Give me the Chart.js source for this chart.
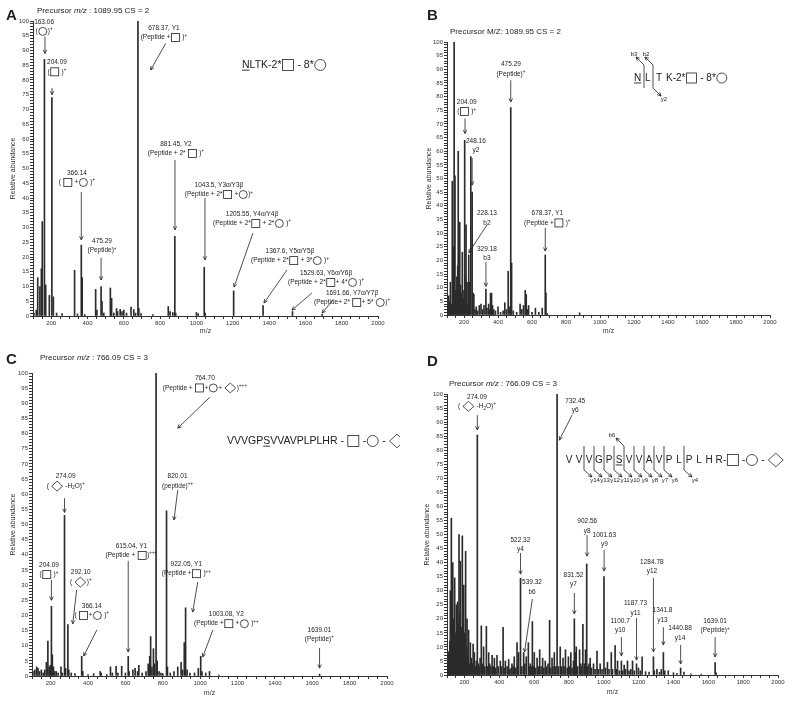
<!DOCTYPE html>
<html>
<head>
<meta charset="utf-8">
<script src="https://cdn.jsdelivr.net/npm/chart.js@4.4.1/dist/chart.umd.min.js"></script>
<style>
  html, body { margin: 0; padding: 0; background: #fff; }
  #wrap { position: relative; width: 800px; height: 703px; overflow: hidden; }
  .panel { position: absolute; }
</style>
</head>
<body>
<div id="wrap">
  <div class="panel" style="left:0;top:0"><canvas id="chartA" width="400" height="350"></canvas></div>
  <div class="panel" style="left:400px;top:0"><canvas id="chartB" width="400" height="350"></canvas></div>
  <div class="panel" style="left:0;top:350px"><canvas id="chartC" width="400" height="353"></canvas></div>
  <div class="panel" style="left:400px;top:350px"><canvas id="chartD" width="400" height="353"></canvas></div>
</div>
<script>
// ---- spectrum data (m/z, relative abundance) ----
const mzA  = [105, 118, 126, 138, 146, 151, 163, 170, 190, 204, 212, 230, 260, 329, 345, 366, 371, 385, 445, 452, 475, 480, 490, 526, 533, 545, 560, 566, 580, 590, 600, 615, 640, 655, 665, 678, 683, 695, 760, 845, 855, 870, 881, 886, 1000, 1010, 1043, 1048, 1205, 1367, 1529, 1692];
const intA = [1, 2, 13, 10, 16, 32, 87, 10.5, 7, 74, 6.5, 1, 0.8, 15.5, 0.7, 24, 13, 0.5, 9, 2, 10, 5, 1, 9.5, 6, 1, 2.5, 1.5, 2.3, 1.5, 2, 1, 3, 2.2, 1, 100, 2.5, 0.8, 0.5, 3.2, 1.5, 1.2, 27, 1, 1.2, 0.8, 16.5, 1, 8.5, 3.5, 1.5, 0.6];

const mzB  = [105, 110, 115, 120, 125, 131, 137, 142, 147, 152, 158, 163, 166, 171, 175, 180, 185, 190, 195, 200, 204, 208, 212, 218, 222, 228, 233, 240, 248, 254, 258, 265, 272, 280, 290, 300, 310, 318, 329, 335, 345, 352, 356, 362, 368, 375, 385, 400, 415, 430, 440, 450, 460, 470, 475, 480, 490, 510, 530, 540, 550, 560, 566, 572, 580, 600, 620, 640, 660, 678, 682, 690, 880];
const intB = [3, 7, 5, 12, 4, 49, 25, 100, 51, 9, 14, 18, 60, 6, 34, 11, 8, 23, 6, 9, 64, 14, 33, 12, 4, 22, 12, 58, 45, 8, 7.5, 2, 3, 1.5, 3.5, 4, 2, 3.5, 9.5, 2.5, 4, 2, 8, 8, 3.5, 2, 1.5, 3, 1, 1.5, 4.5, 2, 16, 3, 76, 19, 1.5, 1, 4, 2, 3.5, 9, 7.5, 2, 3.5, 1, 2.5, 1, 2.5, 22, 8, 0.5, 0.8];

const mzC  = [105, 115, 125, 132, 140, 150, 160, 168, 177, 185, 192, 198, 204, 209, 215, 222, 230, 240, 255, 262, 274, 280, 292, 297, 310, 330, 366, 372, 400, 430, 465, 470, 500, 520, 530, 550, 560, 580, 600, 615, 620, 640, 652, 665, 672, 690, 710, 722, 730, 735, 742, 750, 756, 764, 770, 780, 790, 800, 820, 825, 840, 860, 880, 898, 905, 915, 922, 930, 945, 970, 990, 1003, 1010, 1030, 1050, 1100, 1639];
const intC = [1.5, 2, 3, 2.5, 1.5, 2, 1, 2, 4.5, 11.5, 3, 3.5, 23, 7, 3, 1.5, 1.5, 1, 3, 1, 53, 2.5, 17, 2, 1, 0.8, 6.5, 1.5, 0.5, 0.8, 1.5, 1, 0.5, 3, 1, 3.2, 1, 3.2, 1, 6.5, 1.5, 2, 2.5, 1.5, 3.5, 1, 1.5, 4, 6.5, 13, 3, 9, 4, 100, 5, 1.5, 1, 0.8, 54.5, 3, 1, 1.5, 3, 4.5, 2, 11, 22.5, 2, 1, 1, 2.5, 6.5, 1.5, 1, 1.5, 0.3, 0.6];

const mzD  = [102, 106, 110, 113, 116, 119, 122, 125, 128, 130, 133, 137, 140, 144, 148, 151, 154, 158, 161, 165, 169, 173, 177, 180, 183, 188, 192, 196, 200, 203, 207, 211, 215, 220, 224, 228, 234, 240, 245, 250, 257, 263, 268, 274, 280, 285, 290, 297, 303, 310, 317, 326, 332, 339, 345, 352, 359, 365, 372, 380, 387, 395, 406, 413, 422, 428, 435, 445, 454, 460, 468, 473, 480, 486, 495, 502, 507, 511, 522, 530, 540, 547, 555, 567, 572, 578, 584, 590, 595, 601, 608, 617, 624, 632, 640, 649, 656, 664, 672, 680, 689, 695, 703, 708, 716, 725, 732, 740, 750, 758, 766, 772, 780, 790, 797, 805, 811, 818, 826, 831, 836, 842, 850, 861, 868, 875, 880, 888, 895, 902, 908, 915, 922, 930, 941, 950, 961, 968, 979, 990, 1001, 1010, 1021, 1030, 1043, 1050, 1065, 1072, 1079, 1090, 1101, 1108, 1117, 1125, 1136, 1145, 1155, 1165, 1175, 1188, 1199, 1210, 1220, 1240, 1260, 1285, 1290, 1305, 1320, 1330, 1342, 1350, 1370, 1400, 1420, 1441, 1460, 1500, 1560, 1639, 1645];
const intD = [3, 5, 8.3, 5, 12, 30, 20, 55.8, 12, 28, 40, 20, 10, 34.6, 15, 8, 25, 9, 26, 18, 50, 22, 40.5, 12, 17, 49.5, 12, 32, 15, 9, 44, 10, 20, 7, 16, 4, 11.5, 6, 4, 11, 8, 3, 5, 85.4, 4, 3, 6, 17.5, 4, 10, 3, 17.3, 3, 8, 4, 3, 7, 3, 6, 2.5, 7, 3, 5, 3, 17, 2.5, 5, 3, 5.5, 2, 2.5, 4, 3, 6.5, 2.5, 11.5, 3, 8, 34.4, 3, 8, 4, 6.5, 11.5, 3, 4, 3, 19, 3, 8, 2.5, 6, 3, 9, 3, 6, 2.5, 5, 3, 4, 19.5, 2.5, 6, 3, 8, 3, 100, 3, 10, 3, 6, 3, 9, 2.5, 6.5, 3, 8, 2.5, 5, 20, 8, 10, 3, 9, 4, 3, 18, 4, 9, 39.5, 3, 4, 6, 2.5, 4, 2, 8.5, 2, 4, 2, 35, 2.5, 4.5, 2, 8, 2, 10.5, 2, 5, 1.5, 5, 1.5, 3.5, 2, 5, 1.5, 2, 5, 1.5, 4, 2.5, 1.5, 6.5, 1.2, 1, 6.5, 1.5, 2, 1, 2, 8, 1.5, 1.5, 0.8, 0.6, 2.5, 1, 0.4, 0.3, 4.4, 0.8];

// ---- peak annotations: text anchor (m/z, abundance) and arrow (from -> to) ----
const notesA = [
  { x: 161, y: 99.7, lines: ['163.06', '([C])^+'], arrow: [166, 94.7, 166, 89] },
  { x: 232, y: 86, lines: ['204.09', '([S] )^+'], arrow: [205, 77.3, 205, 75] },
  { x: 821, y: 97.6, lines: ['678.37, Y1', '(Peptide +[S] )^+'], arrow: [831, 92.4, 748, 83.4] },
  { x: 887, y: 58.3, lines: ['881.45, Y2', '(Peptide + 2* [S] )^+'], arrow: [882, 52.9, 882, 29.2] },
  { x: 342, y: 48.5, lines: ['366.14', '( [S] +[C] )^+'], arrow: [366, 42, 366, 25.8] },
  { x: 1124, y: 44.4, lines: ['1043.5, Y3α/Y3β', '(Peptide + 2*[S] +[C])^+'], arrow: [1047, 40, 1047, 19] },
  { x: 1306, y: 34.6, lines: ['1205.55, Y4α/Y4β', '(Peptide + 2*[S] + 2*[C] )^+'], arrow: [1311, 28.1, 1207, 9.8] },
  { x: 480, y: 25.4, lines: ['475.29', '(Peptide)^+'], arrow: [475, 19.7, 475, 12.2] },
  { x: 1515, y: 22, lines: ['1367.6, Y5α/Y5β', '(Peptide + 2*[S] + 3*[C] )^+'], arrow: [1499, 15.6, 1372, 4.4] },
  { x: 1714, y: 14.6, lines: ['1529.63, Y6α/Y6β', '(Peptide + 2*[S]+ 4*[C] )^+'], arrow: [1636, 7.8, 1526, 2] },
  { x: 1857, y: 7.8, lines: ['1691.66, Y7α/Y7β', '(Peptide+ 2* [S]+ 5* [C])^+'], arrow: [1752, 5.4, 1692, 1] }
];
const notesB = [
  { x: 476, y: 91.8, lines: ['475.29', '(Peptide)^+'], arrow: [475, 86, 475, 78] },
  { x: 216, y: 78, lines: ['204.09', '([S] )^+'], arrow: [206, 72, 206, 66.5] },
  { x: 270, y: 63.8, lines: ['248.16', 'y2'], arrow: [248, 57.5, 248, 47.6] },
  { x: 335, y: 37.2, lines: ['228.13', 'b2'], arrow: [335, 33, 228, 22.8] },
  { x: 335, y: 24.2, lines: ['329.18', 'b3'], arrow: [329, 19.4, 329, 10.5] },
  { x: 690, y: 37.2, lines: ['678.37, Y1', '(Peptide +[S] )^+'], arrow: [678, 31.9, 678, 23.4] }
];
const notesC = [
  { x: 1025, y: 98.2, lines: ['764.70', '(Peptide + [S]+[C]+ [D])^+++'], arrow: [1052, 92, 880, 81.8] },
  { x: 280, y: 65.8, lines: ['274.09', '( [D] -H_2O)^+'], arrow: [274, 58.7, 274, 54] },
  { x: 879, y: 65.8, lines: ['820.01', '(peptide)^++'], arrow: [880, 61.4, 860, 51.5] },
  { x: 632, y: 42.9, lines: ['615.04, Y1', '(Peptide + [S])^+++'], arrow: [615, 38, 615, 7.9] },
  { x: 191, y: 36.6, lines: ['204.09', '([S] )^+'], arrow: [204, 31.7, 204, 25] },
  { x: 361, y: 34.1, lines: ['292.10', '( [D])^+'], arrow: [339, 28.4, 318, 17.2] },
  { x: 420, y: 23.1, lines: ['366.14', '( [S]+[C] )^+'], arrow: [447, 15.2, 377, 6.6] },
  { x: 926, y: 36.9, lines: ['922.05, Y1', '(Peptide +[S] )^++'], arrow: [987, 31, 960, 21.1] },
  { x: 1140, y: 20.4, lines: ['1003.08, Y2', '(Peptide +[S] +[C] )^++'], arrow: [1068, 15.2, 1014, 6.3] },
  { x: 1638, y: 15.2, lines: ['1639.01', '(Peptide)^+'], arrow: [1639, 9.2, 1639, 2.6] }
];
const notesD = [
  { x: 272, y: 99, lines: ['274.09', '( [D] -H_2O)^+'], arrow: [274, 92.5, 274, 87.2] },
  { x: 836, y: 97.6, lines: ['732.45', 'y6'], arrow: [818, 92.5, 745, 83.6] },
  { x: 521, y: 48, lines: ['522.32', 'y4'], arrow: [522, 43.4, 522, 35.9] },
  { x: 588, y: 33, lines: ['539.32', 'b6'], arrow: [590, 27, 545, 8.2] },
  { x: 905, y: 54.6, lines: ['902.56', 'y8'], arrow: [904, 49.8, 904, 42.3] },
  { x: 1003, y: 49.8, lines: ['1001.63', 'y9'], arrow: [1002, 44.5, 1002, 37] },
  { x: 826, y: 35.6, lines: ['831.52', 'y7'], arrow: [831, 29.2, 831, 21.7] },
  { x: 1276, y: 40.3, lines: ['1284.78', 'y12'], arrow: [1285, 34.5, 1285, 8.2] },
  { x: 1182, y: 25.5, lines: ['1187.73', 'y11'], arrow: [1188, 20.3, 1188, 5.3] },
  { x: 1337, y: 22.9, lines: ['1341.8', 'y13'], arrow: [1342, 17, 1342, 10.7] },
  { x: 1094, y: 19.3, lines: ['1100.7', 'y10'], arrow: [1101, 13.5, 1101, 6.8] },
  { x: 1438, y: 16.6, lines: ['1440.88', 'y14'], arrow: [1441, 10.7, 1441, 3.9] },
  { x: 1639, y: 19.2, lines: ['1639.01', '(Peptide)^+'], arrow: [1639, 13.5, 1639, 6.4] }
];

const FONT = "'Liberation Sans', Arial, sans-serif";
const INK = '#222';

function drawArrow(ctx, x1, y1, x2, y2) {
  const a = Math.atan2(y2 - y1, x2 - x1), h = 4;
  ctx.beginPath();
  ctx.moveTo(x1, y1);
  ctx.lineTo(x2, y2);
  ctx.moveTo(x2 - h * Math.cos(a - 0.45), y2 - h * Math.sin(a - 0.45));
  ctx.lineTo(x2, y2);
  ctx.lineTo(x2 - h * Math.cos(a + 0.45), y2 - h * Math.sin(a + 0.45));
  ctx.stroke();
}

// text with glycan symbols: [S] square, [C] circle, [D] diamond, ^+ superscript, _2 subscript, ~X underline
function drawRich(ctx, str, x, y, size, sym, align) {
  const parts = str.split(/(\[[SCD]\]|\^\++|_\d|~[A-Z])/).filter(s => s);
  const items = parts.map(p => {
    if (p[0] === '[') {
      const k = p[1];
      return { k, w: (k === 'D' ? sym * 1.35 : sym) + 2 };
    }
    if (p[0] === '^' || p[0] === '_') {
      ctx.font = `${size * 0.7}px ${FONT}`;
      return { k: p[0], t: p.slice(1), w: ctx.measureText(p.slice(1)).width };
    }
    ctx.font = `${size}px ${FONT}`;
    if (p[0] === '~') return { k: 'u', t: p.slice(1), w: ctx.measureText(p.slice(1)).width };
    return { k: 't', t: p, w: ctx.measureText(p).width };
  });
  const total = items.reduce((s, it) => s + it.w, 0);
  let cx = align === 'center' ? x - total / 2 : x;
  ctx.textAlign = 'left';
  ctx.textBaseline = 'middle';
  items.forEach(it => {
    if (it.k === 'S') {
      ctx.strokeRect(cx + 1, y - sym / 2, sym, sym);
    } else if (it.k === 'C') {
      ctx.beginPath();
      ctx.arc(cx + 1 + sym / 2, y, sym / 2, 0, Math.PI * 2);
      ctx.stroke();
    } else if (it.k === 'D') {
      const w = sym * 1.35, hh = sym * 0.62;
      ctx.beginPath();
      ctx.moveTo(cx + 1, y);
      ctx.lineTo(cx + 1 + w / 2, y - hh);
      ctx.lineTo(cx + 1 + w, y);
      ctx.lineTo(cx + 1 + w / 2, y + hh);
      ctx.closePath();
      ctx.stroke();
    } else if (it.k === '^' || it.k === '_') {
      ctx.font = `${size * 0.7}px ${FONT}`;
      ctx.fillText(it.t, cx, it.k === '^' ? y - size * 0.35 : y + size * 0.3);
    } else {
      ctx.font = `${size}px ${FONT}`;
      ctx.fillText(it.t, cx, y);
      if (it.k === 'u') ctx.fillRect(cx, y + size * 0.45, it.w, 0.9);
    }
    cx += it.w;
  });
}

function drawHeader(ctx, h) {
  ctx.font = `bold 15px ${FONT}`;
  ctx.textAlign = 'left';
  ctx.textBaseline = 'alphabetic';
  ctx.fillText(h.letter, h.lx, h.ly);
  let x = h.px;
  ctx.textBaseline = 'middle';
  h.parts.forEach(p => {
    ctx.font = `${p.i ? 'italic ' : ''}8px ${FONT}`;
    ctx.fillText(p.t, x, h.py);
    x += ctx.measureText(p.t).width;
  });
}

function seqA(ctx) {
  drawRich(ctx, '~NLTK-2*[S] - 8*[C]', 242, 65, 10.5, 11, 'left');
}

function seqB(ctx) {
  const y = 78;
  drawRich(ctx, '~N', 234, y, 10, 10, 'left');
  drawRich(ctx, 'L', 245, y, 10, 10, 'left');
  drawRich(ctx, 'T', 256, y, 10, 10, 'left');
  drawRich(ctx, 'K-2*[S] - 8*[C]', 266, y, 10, 10, 'left');
  ctx.beginPath();
  ctx.moveTo(244, 65); ctx.lineTo(244, 88);
  ctx.moveTo(253, 65); ctx.lineTo(253, 88);
  ctx.stroke();
  drawArrow(ctx, 244, 65, 236, 57);
  drawArrow(ctx, 253, 65, 245, 57);
  drawArrow(ctx, 253, 88, 261, 96);
  drawRich(ctx, 'b3', 234, 54, 6, 6, 'center');
  drawRich(ctx, 'b2', 246, 54, 6, 6, 'center');
  drawRich(ctx, 'y2', 264, 99, 6, 6, 'center');
}

function seqC(ctx) {
  drawRich(ctx, 'VVVGP~SVVAVPLPLHR - [S] -[C] - [D]', 227, 91, 10.5, 11, 'left');
}

function seqD(ctx) {
  const res = 'VVVGPSVVAVPLPLHR'.split('');
  const x0 = 169, dx = 10, y = 110;
  res.forEach((r, i) => drawRich(ctx, i === 5 ? '~' + r : r, x0 + i * dx, y, 10, 10, 'center'));
  drawRich(ctx, '-[S] -[C] - [D]', x0 + 15 * dx + 4, y, 10, 11, 'left');
  const cuts = [1, 2, 3, 4, 5, 6, 7, 8, 9, 11];
  const ylab = ['y14', 'y13', 'y12', 'y11', 'y10', 'y9', 'y8', 'y7', 'y6', 'y4'];
  cuts.forEach((c, k) => {
    const cx = x0 + c * dx + dx / 2;
    ctx.beginPath();
    ctx.moveTo(cx, y - 14); ctx.lineTo(cx, y + 10);
    ctx.stroke();
    drawArrow(ctx, cx, y + 10, cx + 8, y + 17);
    drawRich(ctx, ylab[k], cx + 11, y + 20, 6, 6, 'center');
  });
  const bx = x0 + 5 * dx + dx / 2;
  drawArrow(ctx, bx, y - 14, bx - 8, y - 22);
  drawRich(ctx, 'b6', bx - 12, y - 25, 6, 6, 'center');
}

const notesPlugin = {
  id: 'notes',
  afterDraw(chart, args, opts) {
    const { ctx } = chart;
    const xs = chart.scales.x, ys = chart.scales.y;
    ctx.save();
    ctx.fillStyle = INK;
    ctx.strokeStyle = INK;
    ctx.lineWidth = 0.8;
    (opts.labels || []).forEach(n => {
      const px = xs.getPixelForValue(n.x), py = ys.getPixelForValue(n.y);
      n.lines.forEach((ln, i) => drawRich(ctx, ln, px, py + i * 9.5, 6.5, 8, 'center'));
      const a = n.arrow;
      drawArrow(ctx, xs.getPixelForValue(a[0]), ys.getPixelForValue(a[1]),
                     xs.getPixelForValue(a[2]), ys.getPixelForValue(a[3]));
    });
    if (opts.header) drawHeader(ctx, opts.header);
    if (opts.seq) opts.seq(ctx);
    ctx.restore();
  }
};

function makeChart(id, mz, ab, box, notes, header, seq) {
  const pts = mz.map((m, i) => ({ x: m, y: ab[i] }));
  return new Chart(document.getElementById(id), {
    type: 'bar',
    data: {
      datasets: [{
        data: pts,
        backgroundColor: '#2b2b2b',
        borderWidth: 0,
        barThickness: 1
      }]
    },
    options: {
      responsive: false,
      animation: false,
      events: [],
      layout: { padding: { top: box.top, right: box.right, left: 0, bottom: 0 } },
      scales: {
        x: {
          type: 'linear',
          min: 100,
          max: 2000,
          offset: false,
          afterFit: s => { s.height = box.xh; },
          grid: { display: true, drawOnChartArea: false, offset: false, tickLength: 3, color: '#333' },
          border: { display: true, color: '#333' },
          ticks: {
            stepSize: 50,
            autoSkip: false,
            maxRotation: 0,
            padding: 1,
            color: '#333',
            font: { size: 6, family: FONT },
            callback: v => (v % 200 === 0 ? String(v) : '')
          },
          title: { display: true, text: 'm/z', color: '#333', font: { size: 7, family: FONT }, padding: { top: 0, bottom: box.xt } }
        },
        y: {
          min: 0,
          max: 100,
          afterFit: s => { s.width = box.left; },
          grid: { display: true, drawOnChartArea: false, tickLength: 3, color: '#333' },
          border: { display: true, color: '#333' },
          ticks: {
            stepSize: 1,
            autoSkip: false,
            padding: 1,
            color: '#333',
            font: { size: 6, family: FONT },
            callback: v => (v % 5 === 0 ? String(v) : '')
          },
          title: { display: true, text: 'Relative abundance', color: '#333', font: { size: 7, family: FONT }, padding: { top: box.yt, bottom: 0 } }
        }
      },
      plugins: {
        legend: { display: false },
        tooltip: { enabled: false },
        notes: { labels: notes, header, seq }
      }
    },
    plugins: [notesPlugin]
  });
}

makeChart('chartA', mzA, intA, { left: 33, top: 21, right: 22, xh: 34, xt: 15, yt: 9 }, notesA,
  { letter: 'A', lx: 6, ly: 20, px: 37, py: 11, parts: [{ t: 'Precursor ' }, { t: 'm/z', i: true }, { t: ' : 1089.95 CS = 2' }] }, seqA);
makeChart('chartB', mzB, intB, { left: 47, top: 42, right: 30, xh: 35, xt: 15, yt: 25 }, notesB,
  { letter: 'B', lx: 27, ly: 20, px: 50, py: 32, parts: [{ t: 'Precursor M/Z: 1089.95 CS = 2' }] }, seqB);
makeChart('chartC', mzC, intC, { left: 32, top: 23, right: 13, xh: 27, xt: 6, yt: 9 }, notesC,
  { letter: 'C', lx: 6, ly: 14, px: 40, py: 8, parts: [{ t: 'Precursor ' }, { t: 'm/z', i: true }, { t: ' : 766.09 CS = 3' }] }, seqC);
makeChart('chartD', mzD, intD, { left: 47, top: 44, right: 22, xh: 28, xt: 7, yt: 23 }, notesD,
  { letter: 'D', lx: 27, ly: 16, px: 49, py: 34, parts: [{ t: 'Precursor ' }, { t: 'm/z', i: true }, { t: ' : 766.09 CS = 3' }] }, seqD);
</script>
</body>
</html>
